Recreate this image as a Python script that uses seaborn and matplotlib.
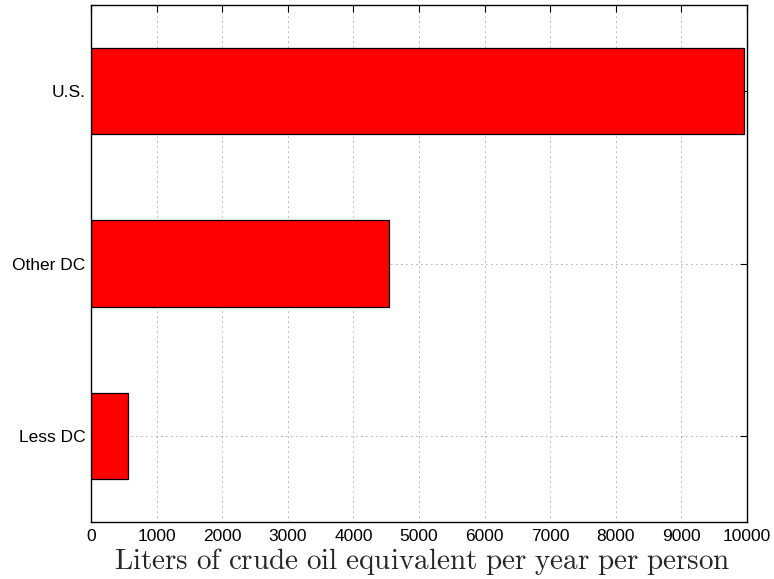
import pandas as pd
import matplotlib
matplotlib.use("Agg")
import matplotlib.pyplot as plt
import seaborn as sns

# Data
regions = ["U.S.", "Other DC", "Less DC"]
liters = [9950, 4540, 565]

df = pd.DataFrame({"region": regions, "liters": liters})

sns.set_style("white")
plt.rcParams["font.family"] = ["Liberation Sans", "DejaVu Sans"]
plt.rcParams["mathtext.fontset"] = "cm"

fig = plt.figure(figsize=(7.74, 5.79), dpi=100)
ax = fig.add_axes([0.1176, 0.0984, 0.8475, 0.893])

sns.barplot(data=df, x="liters", y="region", orient="h", color="#ff0000",
            saturation=1, width=0.5, edgecolor="black", linewidth=0.9, ax=ax)

ax.set_xlim(0, 10000)
ax.set_ylim(2.5, -0.5)
ax.set_xticks(range(0, 10001, 1000))
ax.set_axisbelow(True)
ax.grid(True, linestyle=(0, (1, 5)), color="#555555", linewidth=0.6)

for s in ax.spines.values():
    s.set_visible(True)
    s.set_color("black")
    s.set_linewidth(1.0)

ax.tick_params(direction="in", top=True, right=True, length=5, width=0.8,
               labelsize=12.5, colors="black", pad=5)
ax.tick_params(axis="y", labelsize=12.5, pad=4)
ax.set_ylabel("")
ax.set_xlabel(r"$\mathrm{Liters\ of\ crude\ oil\ equivalent\ per\ year\ per\ person}$",
              fontsize=21, labelpad=1.5)
ax.xaxis.label.set_x(0.505)

fig.savefig("out.png", dpi=100)
